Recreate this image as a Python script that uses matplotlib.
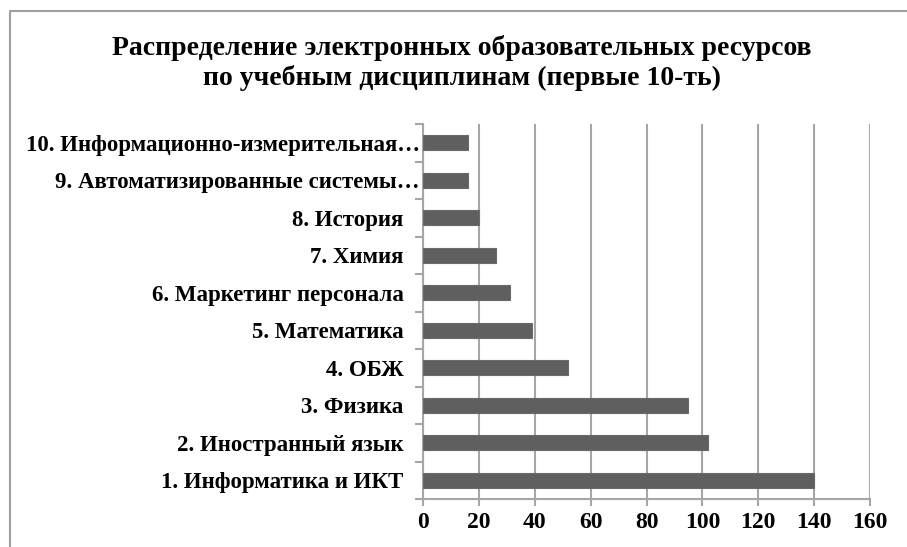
import numpy as np
import matplotlib.pyplot as plt
import matplotlib.transforms as mtransforms
from matplotlib.lines import Line2D

# Дисциплины и число ресурсов (снизу вверх)
labels = ["1. Информатика и ИКТ", "2. Иностранный язык", "3. Физика", "4. ОБЖ",
          "5. Математика", "6. Маркетинг персонала", "7. Химия", "8. История",
          "9. Автоматизированные системы…", "10. Информационно-измерительная…"]
values = [140, 102, 95, 52, 39, 31, 26, 20, 16, 16]
xticks = [0, 20, 40, 60, 80, 100, 120, 140, 160]

plt.rcParams['font.family'] = ['Liberation Serif', 'DejaVu Serif']
grid_col = '#a6a6a6'

fig = plt.figure(figsize=(9.07, 5.47), dpi=100)
ax = fig.add_axes([423/907, 48/547, (870-423)/907, (499-124)/547])

y = np.arange(len(labels))
ax.barh(y, values, height=0.4, color='#5f5f5f', edgecolor='#6a6a6a', linewidth=0.8, zorder=3)

ax.set_xlim(0, 160)
ax.set_ylim(-0.5, len(labels) - 0.5)
ax.set_xticks(xticks)
ax.set_xticklabels([str(v) for v in xticks], fontsize=17, fontweight='bold')
ax.set_yticks(y)
ax.set_yticklabels(labels, fontsize=16.5, fontweight='bold')
ax.set_yticks(np.arange(-0.5, len(labels)), minor=True)

ax.grid(axis='x', color=grid_col, linewidth=1.5, zorder=0)
ax.tick_params(axis='y', which='major', length=0, pad=14)
ax.tick_params(axis='y', which='minor', length=6, width=1.5, color=grid_col)
ax.tick_params(axis='x', length=5, width=1.5, color=grid_col, pad=4)

for s in ['top', 'right']:
    ax.spines[s].set_visible(False)
for s in ['left', 'bottom']:
    ax.spines[s].set_color(grid_col)
    ax.spines[s].set_linewidth(1.5)

# обрезанные подписи стоят ближе к оси
shift = mtransforms.ScaledTranslation(16/100, 0, fig.dpi_scale_trans)
for lab in ax.get_yticklabels()[8:]:
    lab.set_transform(lab.get_transform() + shift)

fig.text(462/907, 1 - 48/547, "Распределение электронных образовательных ресурсов",
         ha='center', va='center', fontsize=20, fontweight='bold')
fig.text(462/907, 1 - 78/547, "по учебным дисциплинам (первые 10-ть)",
         ha='center', va='center', fontsize=20, fontweight='bold')

# рамка области диаграммы
fig.add_artist(Line2D([10/907, 10/907, 1.0], [0, 1 - 11/547, 1 - 11/547],
                      transform=fig.transFigure, color='#a0a0a0', linewidth=1.5))

fig.savefig('out.png', dpi=100)
